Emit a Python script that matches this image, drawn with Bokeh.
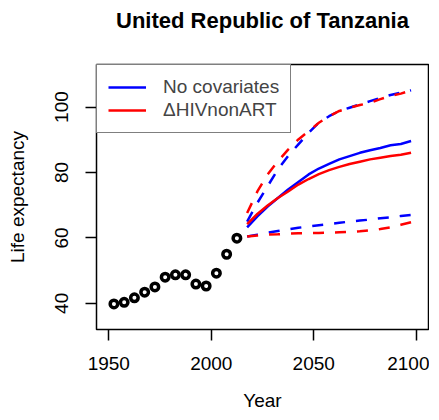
from bokeh.plotting import figure
from bokeh.models import Range1d, FixedTicker, Legend, LegendItem, LinearAxis
from bokeh.embed import file_html
from bokeh.resources import INLINE

# observed life expectancy (5-year periods)
years_obs = [1952.5, 1957.5, 1962.5, 1967.5, 1972.5, 1977.5, 1982.5, 1987.5,
             1992.5, 1997.5, 2002.5, 2007.5, 2012.5]
le_obs = [39.8, 40.3, 41.7, 43.4, 45.0, 48.0, 48.7, 48.7, 45.9, 45.3, 49.2, 55.0, 59.9]

# projections
years_proj = [2017.5, 2022.5, 2027.5, 2032.5, 2037.5, 2042.5, 2047.5, 2052.5, 2057.5,
              2062.5, 2067.5, 2072.5, 2077.5, 2082.5, 2087.5, 2092.5, 2097.5]
blue_med = [63.2, 66.6, 69.6, 72.2, 74.8, 77.1, 79.4, 81.2, 82.6, 84.0, 85.0, 86.0, 86.8, 87.5, 88.3, 88.7, 89.6]
blue_hi = [65.0, 70.7, 75.8, 80.9, 85.0, 88.6, 92.1, 95.2, 97.2, 98.8, 99.8, 100.8, 101.8, 102.8, 103.7, 104.4, 105.1]
blue_lo = [60.4, 61.0, 61.6, 62.1, 62.6, 63.1, 63.5, 63.9, 64.2, 64.6, 65.0, 65.3, 65.6, 66.0, 66.3, 66.7, 67.0]
red_med = [64.2, 67.3, 69.9, 72.2, 74.2, 76.3, 78.0, 79.5, 80.7, 81.7, 82.6, 83.3, 84.0, 84.5, 85.0, 85.4, 86.0]
red_hi = [67.6, 74.2, 79.4, 83.4, 87.0, 90.1, 92.6, 95.2, 97.2, 98.8, 99.8, 100.6, 101.3, 102.4, 103.4, 104.1, 105.1]
red_lo = [60.4, 60.7, 61.0, 61.1, 61.3, 61.4, 61.5, 61.5, 61.6, 61.7, 61.8, 62.0, 62.3, 62.7, 63.2, 64.0, 64.8]

x_ticks = [1950, 2000, 2050, 2100]
y_ticks = [40, 60, 80, 100]
series_labels = ["No covariates", "\u0394HIVnonART"]
title_text = "United Republic of Tanzania"

FONT = "Liberation Sans"
FS = "19px"
BLUE = "#0000FF"
RED = "#FF0000"

p = figure(width=429, height=413, output_backend="svg", toolbar_location=None,
           x_range=Range1d(1944, 2106), y_range=Range1d(32, 113),
           min_border_left=96, min_border_right=1, min_border_top=64, min_border_bottom=84)

p.xgrid.visible = False
p.ygrid.visible = False
p.outline_line_color = "black"
p.outline_line_width = 1.5
p.background_fill_color = "white"
p.border_fill_color = "white"

for ax in (p.xaxis[0], p.yaxis[0]):
    ax.axis_line_color = None
    ax.major_tick_out = 11
    ax.major_tick_in = 0
    ax.minor_tick_out = 0
    ax.minor_tick_in = 0
    ax.major_tick_line_color = "black"
    ax.major_tick_line_width = 1.5
    ax.major_label_text_font = FONT
    ax.major_label_text_font_size = FS
    ax.major_label_text_color = "black"
    ax.axis_label_text_font = FONT
    ax.axis_label_text_font_size = FS
    ax.axis_label_text_font_style = "normal"
    ax.axis_label_text_color = "black"

p.xaxis.ticker = FixedTicker(ticks=x_ticks)
p.yaxis.ticker = FixedTicker(ticks=y_ticks)
p.xaxis.axis_label = "Year"
p.yaxis.axis_label = "Life expectancy"
p.xaxis.major_label_standoff = 16
p.yaxis.major_label_standoff = 17
p.yaxis.major_label_orientation = "vertical"
p.xaxis.axis_label_standoff = 17
p.yaxis.axis_label_standoff = 25

# title drawn as the label of a tick-less axis above the frame
title_axis = LinearAxis(ticker=FixedTicker(ticks=[]), axis_label=title_text,
                        axis_line_color=None, major_tick_out=0, major_tick_in=0,
                        minor_tick_out=0, minor_tick_in=0, major_label_standoff=0,
                        axis_label_standoff=32, axis_label_text_font=FONT,
                        axis_label_text_font_size="22px",
                        axis_label_text_font_style="bold",
                        axis_label_text_color="black")
p.add_layout(title_axis, "above")

LW = 2.5
DASH = "11 11"
r_bm = p.line(years_proj, blue_med, line_color=BLUE, line_width=LW)
p.line(years_proj, blue_hi, line_color=BLUE, line_width=LW, line_dash=DASH)
p.line(years_proj, blue_lo, line_color=BLUE, line_width=LW, line_dash=DASH)
r_rm = p.line(years_proj, red_med, line_color=RED, line_width=LW)
p.line(years_proj, red_hi, line_color=RED, line_width=LW, line_dash=DASH)
p.line(years_proj, red_lo, line_color=RED, line_width=LW, line_dash=DASH)

p.scatter(years_obs, le_obs, marker="circle", size=7.5, fill_color=None,
          line_color="black", line_width=3.5)

legend = Legend(items=[LegendItem(label=series_labels[0], renderers=[r_bm]),
                       LegendItem(label=series_labels[1], renderers=[r_rm])],
                location="top_left", margin=0, padding=11, spacing=1,
                glyph_width=38, glyph_height=20, label_height=20, label_width=116,
                label_standoff=17,
                label_text_font=FONT, label_text_font_size=FS,
                border_line_color="black", border_line_width=1.5,
                background_fill_alpha=1.0)
p.add_layout(legend)

open("out.html", "w").write(file_html(p, INLINE))
